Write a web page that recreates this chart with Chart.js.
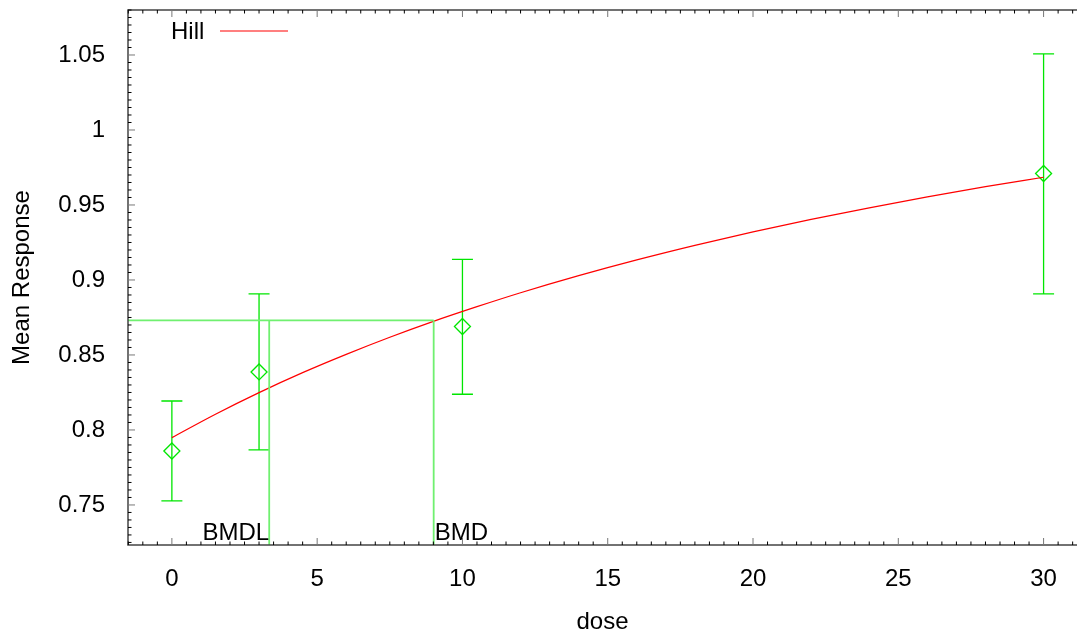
<!DOCTYPE html>
<html>
<head>
<meta charset="utf-8">
<script src="https://cdn.jsdelivr.net/npm/chart.js@4.4.6/dist/chart.umd.min.js"></script>
<style>
  html, body { margin: 0; padding: 0; background: #fff; overflow: hidden; }
  canvas { display: block; }
</style>
</head>
<body>
<canvas id="chart" width="1077" height="634"></canvas>
<script>
/* observed group means with error bars */
const doses = [0, 3, 10, 30];
const means = [0.786, 0.8387, 0.869, 0.971];
const upper = [0.8193, 0.8907, 0.9138, 1.0507];
const lower = [0.7527, 0.7867, 0.8238, 0.8907];

/* Hill model curve */
const fitDoses = [0, 1.5, 3, 4.5, 6, 7.5, 9, 10.5, 12, 14, 16, 18, 20, 22, 24, 26, 28, 30];
const fitValues = [0.7949, 0.8105, 0.8249, 0.8382, 0.8504, 0.8618, 0.8724, 0.8822, 0.8915,
                   0.9029, 0.9134, 0.9231, 0.9321, 0.9404, 0.9481, 0.9554, 0.9622, 0.9685];

/* benchmark dose markers */
const bmd = 9.01;
const bmdl = 3.35;
const bmrResponse = 0.873;

/* axes */
const xMin = -1.51, xMax = 31.15;
const yMin = 0.7233, yMax = 1.08;
const xTicks = [0, 5, 10, 15, 20, 25, 30];
const yTicks = [0.75, 0.8, 0.85, 0.9, 0.95, 1, 1.05];
const yTickLabels = ["0.75", "0.8", "0.85", "0.9", "0.95", "1", "1.05"];

const green = "#00e600";
const lightGreen = "#70f070";
const FONT = '"Liberation Sans", Arial, sans-serif';
Chart.defaults.font.family = FONT;

const pts = (xs, ys) => xs.map((x, i) => ({ x: x, y: ys[i] }));

// the plot frame runs to the right edge of the canvas (it is cut off there)
const stretchRight = {
  id: "stretchRight",
  afterLayout(chart) {
    const x = chart.scales.x;
    x.right = chart.width;
    x.width = x.right - x.left;
    x.configure();
    chart.chartArea.right = x.right;
    chart.chartArea.width = x.right - chart.chartArea.left;
  }
};

// error bars, frame with inward ticks, legend and BMD labels
const extras = {
  id: "extras",
  beforeDatasetsDraw(chart) {
    const { ctx, scales: { x, y } } = chart;
    ctx.save();
    ctx.strokeStyle = green;
    ctx.lineWidth = 1.3;
    doses.forEach((d, i) => {
      const px = x.getPixelForValue(d);
      const yt = y.getPixelForValue(upper[i]);
      const yb = y.getPixelForValue(lower[i]);
      ctx.beginPath();
      ctx.moveTo(px, yt); ctx.lineTo(px, yb);
      ctx.moveTo(px - 10.5, yt); ctx.lineTo(px + 10.5, yt);
      ctx.moveTo(px - 10.5, yb); ctx.lineTo(px + 10.5, yb);
      ctx.stroke();
    });
    ctx.restore();
  },
  afterDraw(chart) {
    const { ctx, chartArea: a, scales: { x, y } } = chart;
    ctx.save();
    // frame: left, top, bottom (right side is cut off)
    ctx.strokeStyle = "#444";
    ctx.lineWidth = 1.5;
    ctx.beginPath();
    ctx.moveTo(a.right + 2, a.top); ctx.lineTo(a.left, a.top);
    ctx.lineTo(a.left, a.bottom); ctx.lineTo(a.right + 2, a.bottom);
    ctx.stroke();
    // x ticks (bottom and top, pointing inward)
    for (let v = -1.5; v <= xMax; v += 0.5) {
      const px = x.getPixelForValue(v);
      const major = Math.abs(v % 5) < 1e-9;
      const len = major ? 7 : 3.5;
      ctx.strokeStyle = major ? "#777" : "#000";
      ctx.lineWidth = 1;
      ctx.beginPath();
      ctx.moveTo(px, a.bottom); ctx.lineTo(px, a.bottom - len);
      ctx.moveTo(px, a.top); ctx.lineTo(px, a.top + len);
      ctx.stroke();
    }
    // y ticks
    for (let k = 145; k <= 216; k++) {
      const v = k * 0.005;
      const py = y.getPixelForValue(v);
      const major = k % 10 === 0;
      const len = major ? 7 : 3.5;
      ctx.strokeStyle = major ? "#777" : "#000";
      ctx.lineWidth = 1;
      ctx.beginPath();
      ctx.moveTo(a.left, py); ctx.lineTo(a.left + len, py);
      ctx.stroke();
    }
    // legend
    ctx.fillStyle = "#000";
    ctx.font = "24px " + FONT;
    ctx.textBaseline = "middle";
    ctx.textAlign = "left";
    ctx.fillText("Hill", a.left + 43, 32);
    ctx.strokeStyle = "#ff0000";
    ctx.lineWidth = 1.2;
    ctx.beginPath();
    ctx.moveTo(a.left + 92, 31); ctx.lineTo(a.left + 160, 31);
    ctx.stroke();
    // BMDL / BMD labels
    ctx.font = "24px " + FONT;
    ctx.textBaseline = "alphabetic";
    ctx.textAlign = "right";
    ctx.fillText("BMDL", x.getPixelForValue(bmdl), a.bottom - 5);
    ctx.textAlign = "left";
    ctx.fillText("BMD", x.getPixelForValue(bmd) + 1, a.bottom - 5);
    ctx.restore();
  }
};

new Chart(document.getElementById("chart"), {
  type: "scatter",
  data: {
    datasets: [
      {
        label: "BMR",
        data: pts([xMin, bmd], [bmrResponse, bmrResponse]),
        showLine: true, borderColor: lightGreen, borderWidth: 1.8, pointRadius: 0
      },
      {
        label: "BMD",
        data: pts([bmd, bmd], [bmrResponse, yMin]),
        showLine: true, borderColor: lightGreen, borderWidth: 1.8, pointRadius: 0
      },
      {
        label: "BMDL",
        data: pts([bmdl, bmdl], [bmrResponse, yMin]),
        showLine: true, borderColor: lightGreen, borderWidth: 1.8, pointRadius: 0
      },
      {
        label: "Hill",
        data: pts(fitDoses, fitValues),
        showLine: true, borderColor: "#ff0000", borderWidth: 1.2,
        pointRadius: 0, cubicInterpolationMode: "monotone"
      },
      {
        label: "Mean",
        data: pts(doses, means),
        showLine: false, pointStyle: "rectRot", pointRadius: 8,
        backgroundColor: "rgba(0,0,0,0)", borderColor: green, borderWidth: 1.3
      }
    ]
  },
  options: {
    responsive: false,
    animation: false,
    layout: { padding: { top: 10, right: 0, left: 0, bottom: 0 } },
    plugins: { legend: { display: false }, tooltip: { enabled: false } },
    scales: {
      x: {
        type: "linear", min: xMin, max: xMax,
        grid: { display: false }, border: { display: false },
        afterBuildTicks: s => { s.ticks = xTicks.map(v => ({ value: v })); },
        afterFit: s => { s.height = 89; s.paddingLeft = 0; s.paddingRight = 0; },
        ticks: { color: "#000", font: { size: 24 }, padding: 12, maxRotation: 0,
                 callback: v => String(v) },
        title: { display: true, text: "dose", color: "#000", font: { size: 24 },
                 padding: { top: 0, bottom: -3 } }
      },
      y: {
        type: "linear", min: yMin, max: yMax,
        grid: { display: false }, border: { display: false },
        afterBuildTicks: s => { s.ticks = yTicks.map(v => ({ value: v })); },
        afterFit: s => { s.width = 128; s.paddingTop = 0; s.paddingBottom = 0; },
        ticks: { color: "#000", font: { size: 24 }, padding: 15,
                 callback: v => yTickLabels[yTicks.indexOf(v)] },
        title: { display: true, text: "Mean Response", color: "#000", font: { size: 24 },
                 padding: { top: 8, bottom: 0 } }
      }
    }
  },
  plugins: [stretchRight, extras]
});
</script>
</body>
</html>
